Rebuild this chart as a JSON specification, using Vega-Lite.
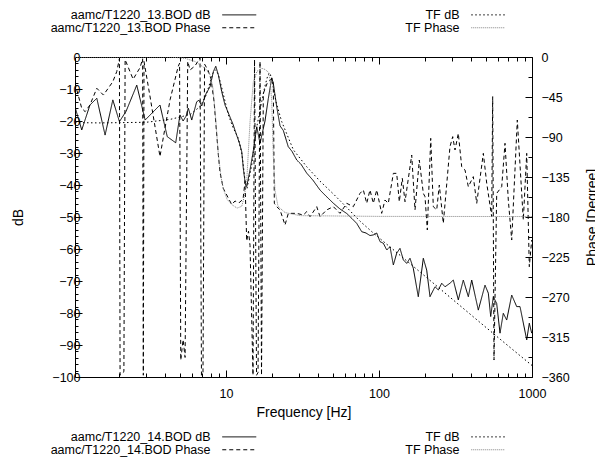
{
"$schema": "https://vega.github.io/schema/vega-lite/v6.json",
"width": 457, "height": 320,
"autosize": {"type": "none"},
"padding": {"left": 75, "top": 57, "right": 63, "bottom": 88},
"config": {
 "font": "Liberation Sans",
 "view": {"stroke": "#000", "strokeWidth": 1},
 "axis": {"labelFont": "Liberation Sans", "labelFontSize": 12.5, "labelColor": "#000", "titleFont": "Liberation Sans", "titleFontSize": 14, "titleFontWeight": "normal", "titleColor": "#000", "domain": false, "grid": false, "tickColor": "#000", "tickWidth": 1, "labelOverlap": false, "labelBound": false, "labelFlush": false},
 "legend": {"labelFont": "Liberation Sans", "labelFontSize": 12.5, "labelColor": "#000", "labelLimit": 400, "padding": 0, "titlePadding": 0}
},
"data": {"values": [
{"s":"bod_db","f":1.03,"v":-15.6},{"s":"bod_db","f":1.14,"v":-22.8},{"s":"bod_db","f":1.29,"v":-15},{"s":"bod_db","f":1.43,"v":-12.9},{"s":"bod_db","f":1.62,"v":-24.4},{"s":"bod_db","f":1.82,"v":-13.4},{"s":"bod_db","f":2.01,"v":-20.2},{"s":"bod_db","f":2.22,"v":-17},{"s":"bod_db","f":2.61,"v":-8.8},{"s":"bod_db","f":2.96,"v":-19.7},{"s":"bod_db","f":3.7,"v":-15},{"s":"bod_db","f":4.13,"v":-24.9},{"s":"bod_db","f":4.69,"v":-26.8},{"s":"bod_db","f":5.0,"v":-18.1},{"s":"bod_db","f":5.24,"v":-20},{"s":"bod_db","f":5.48,"v":-18.5},{"s":"bod_db","f":5.67,"v":-16},{"s":"bod_db","f":5.97,"v":-19.7},{"s":"bod_db","f":6.43,"v":-14},{"s":"bod_db","f":6.66,"v":-13.5},{"s":"bod_db","f":6.94,"v":-15.3},{"s":"bod_db","f":7.4,"v":-11.5},{"s":"bod_db","f":7.86,"v":-9.3},{"s":"bod_db","f":8.26,"v":-4.6},{"s":"bod_db","f":8.57,"v":-2.9},{"s":"bod_db","f":8.91,"v":-5.6},{"s":"bod_db","f":9.37,"v":-10.8},{"s":"bod_db","f":9.85,"v":-15},{"s":"bod_db","f":10.46,"v":-18},{"s":"bod_db","f":11.1,"v":-21},{"s":"bod_db","f":11.75,"v":-24.5},{"s":"bod_db","f":12.25,"v":-27},{"s":"bod_db","f":12.67,"v":-29.6},{"s":"bod_db","f":12.97,"v":-34.8},{"s":"bod_db","f":13.31,"v":-39},{"s":"bod_db","f":13.65,"v":-40.5},{"s":"bod_db","f":14.35,"v":-35.3},{"s":"bod_db","f":15.08,"v":-29.3},{"s":"bod_db","f":15.88,"v":-21.8},{"s":"bod_db","f":16.68,"v":-27},{"s":"bod_db","f":17.98,"v":-20},{"s":"bod_db","f":18.9,"v":-13},{"s":"bod_db","f":19.9,"v":-6.5},{"s":"bod_db","f":20.37,"v":-8.2},{"s":"bod_db","f":21.44,"v":-15.5},{"s":"bod_db","f":22.54,"v":-21.5},{"s":"bod_db","f":23.7,"v":-23},{"s":"bod_db","f":25.5,"v":-28},{"s":"bod_db","f":27.0,"v":-29.5},{"s":"bod_db","f":29.0,"v":-32.2},{"s":"bod_db","f":30.9,"v":-33.5},{"s":"bod_db","f":33.7,"v":-36.3},{"s":"bod_db","f":37.0,"v":-38.5},{"s":"bod_db","f":41.2,"v":-41.6},{"s":"bod_db","f":45.1,"v":-43.5},{"s":"bod_db","f":50.3,"v":-45.7},{"s":"bod_db","f":55.6,"v":-47.5},{"s":"bod_db","f":61.5,"v":-48.9},{"s":"bod_db","f":66.6,"v":-50.5},{"s":"bod_db","f":71.5,"v":-52},{"s":"bod_db","f":77.1,"v":-54.6},{"s":"bod_db","f":82.2,"v":-55},{"s":"bod_db","f":87.3,"v":-55.8},{"s":"bod_db","f":91.8,"v":-55.6},{"s":"bod_db","f":96.6,"v":-55},{"s":"bod_db","f":101.5,"v":-57.7},{"s":"bod_db","f":106.7,"v":-58.2},{"s":"bod_db","f":112.3,"v":-60.3},{"s":"bod_db","f":118.0,"v":-59.3},{"s":"bod_db","f":124.1,"v":-65},{"s":"bod_db","f":130.5,"v":-61.3},{"s":"bod_db","f":137.1,"v":-59.8},{"s":"bod_db","f":144.2,"v":-63.4},{"s":"bod_db","f":151.7,"v":-64.5},{"s":"bod_db","f":159.4,"v":-62.9},{"s":"bod_db","f":167.5,"v":-66},{"s":"bod_db","f":180.6,"v":-74.9},{"s":"bod_db","f":194.8,"v":-62.9},{"s":"bod_db","f":205.0,"v":-66.6},{"s":"bod_db","f":215.4,"v":-74.9},{"s":"bod_db","f":232.3,"v":-71.8},{"s":"bod_db","f":244.2,"v":-72.8},{"s":"bod_db","f":257.0,"v":-70.7},{"s":"bod_db","f":270.0,"v":-71.8},{"s":"bod_db","f":291.0,"v":-70.7},{"s":"bod_db","f":305.9,"v":-69.7},{"s":"bod_db","f":329.8,"v":-75.9},{"s":"bod_db","f":355.6,"v":-69.7},{"s":"bod_db","f":383.5,"v":-74.9},{"s":"bod_db","f":403.6,"v":-69.7},{"s":"bod_db","f":445.7,"v":-79.1},{"s":"bod_db","f":493.0,"v":-71.3},{"s":"bod_db","f":518.2,"v":-73.8},{"s":"bod_db","f":537.1,"v":-81.1},{"s":"bod_db","f":558.5,"v":-74.9},{"s":"bod_db","f":587.6,"v":-77},{"s":"bod_db","f":617.9,"v":-86.3},{"s":"bod_db","f":649.2,"v":-80.1},{"s":"bod_db","f":683.3,"v":-82.2},{"s":"bod_db","f":736.9,"v":-74.4},{"s":"bod_db","f":794.3,"v":-78},{"s":"bod_db","f":835,"v":-78},{"s":"bod_db","f":923.5,"v":-88.4},{"s":"bod_db","f":960.2,"v":-83.2},{"s":"bod_db","f":995.5,"v":-86.3},
{"s":"tf_db","f":1.03,"v":-20.5},{"s":"tf_db","f":1.5,"v":-20.6},{"s":"tf_db","f":3.0,"v":-20.4},{"s":"tf_db","f":4.31,"v":-19.5},{"s":"tf_db","f":5.82,"v":-18},{"s":"tf_db","f":6.76,"v":-15.5},{"s":"tf_db","f":7.4,"v":-12},{"s":"tf_db","f":7.86,"v":-8},{"s":"tf_db","f":8.22,"v":-5},{"s":"tf_db","f":8.57,"v":-4},{"s":"tf_db","f":8.91,"v":-5.5},{"s":"tf_db","f":9.42,"v":-10},{"s":"tf_db","f":10.35,"v":-18},{"s":"tf_db","f":11.1,"v":-22},{"s":"tf_db","f":12.03,"v":-25.4},{"s":"tf_db","f":12.67,"v":-30},{"s":"tf_db","f":12.97,"v":-33.8},{"s":"tf_db","f":13.41,"v":-40},{"s":"tf_db","f":13.72,"v":-41},{"s":"tf_db","f":14.14,"v":-38},{"s":"tf_db","f":14.72,"v":-33.8},{"s":"tf_db","f":15.71,"v":-23},{"s":"tf_db","f":17.11,"v":-14},{"s":"tf_db","f":17.98,"v":-9},{"s":"tf_db","f":18.82,"v":-5.5},{"s":"tf_db","f":19.39,"v":-5},{"s":"tf_db","f":19.98,"v":-7.5},{"s":"tf_db","f":21.22,"v":-14},{"s":"tf_db","f":23.12,"v":-20.2},{"s":"tf_db","f":27.54,"v":-29},{"s":"tf_db","f":33.7,"v":-34.3},{"s":"tf_db","f":41.16,"v":-38.8},{"s":"tf_db","f":50.3,"v":-42.8},{"s":"tf_db","f":61.5,"v":-47},{"s":"tf_db","f":75.1,"v":-51.3},{"s":"tf_db","f":91.8,"v":-55},{"s":"tf_db","f":100,"v":-56.5},{"s":"tf_db","f":150,"v":-63.5},{"s":"tf_db","f":200,"v":-68.5},{"s":"tf_db","f":300,"v":-75.6},{"s":"tf_db","f":500,"v":-84.5},{"s":"tf_db","f":700,"v":-90.3},{"s":"tf_db","f":1000,"v":-96.4},
{"s":"bod_ph","f":1.03,"v":-29.6},{"s":"bod_ph","f":1.14,"v":-57.7},{"s":"bod_ph","f":1.2,"v":-61.5},{"s":"bod_ph","f":1.29,"v":-54},{"s":"bod_ph","f":1.43,"v":-35.2},{"s":"bod_ph","f":1.58,"v":-42.8},{"s":"bod_ph","f":1.82,"v":-27.8},{"s":"bod_ph","f":1.93,"v":-16.5},{"s":"bod_ph","f":2.01,"v":-2},{"s":"bod_ph","f":2.03,"v":-358},{"s":"bod_ph","f":2.15,"v":-354},{"s":"bod_ph","f":2.19,"v":-3},{"s":"bod_ph","f":2.47,"v":-25},{"s":"bod_ph","f":2.74,"v":-12},{"s":"bod_ph","f":2.85,"v":-2},{"s":"bod_ph","f":2.88,"v":-358},{"s":"bod_ph","f":2.91,"v":-5},{"s":"bod_ph","f":3.19,"v":-45},{"s":"bod_ph","f":3.7,"v":-112},{"s":"bod_ph","f":3.99,"v":-80},{"s":"bod_ph","f":4.31,"v":-48},{"s":"bod_ph","f":4.86,"v":-11},{"s":"bod_ph","f":4.97,"v":-7},{"s":"bod_ph","f":5.06,"v":-341},{"s":"bod_ph","f":5.24,"v":-318},{"s":"bod_ph","f":5.4,"v":-338},{"s":"bod_ph","f":5.62,"v":-5},{"s":"bod_ph","f":5.82,"v":-14.6},{"s":"bod_ph","f":6.27,"v":-10},{"s":"bod_ph","f":6.76,"v":-1},{"s":"bod_ph","f":6.91,"v":-358},{"s":"bod_ph","f":7.07,"v":-355},{"s":"bod_ph","f":7.24,"v":-8},{"s":"bod_ph","f":7.63,"v":-15},{"s":"bod_ph","f":7.98,"v":-25},{"s":"bod_ph","f":8.35,"v":-50},{"s":"bod_ph","f":8.91,"v":-110},{"s":"bod_ph","f":9.14,"v":-130},{"s":"bod_ph","f":9.6,"v":-148},{"s":"bod_ph","f":10.9,"v":-166},{"s":"bod_ph","f":11.45,"v":-162},{"s":"bod_ph","f":12.16,"v":-164},{"s":"bod_ph","f":12.92,"v":-160},{"s":"bod_ph","f":13.31,"v":-140},{"s":"bod_ph","f":13.65,"v":-207},{"s":"bod_ph","f":14.03,"v":-196},{"s":"bod_ph","f":14.35,"v":-212},{"s":"bod_ph","f":15.01,"v":-358},{"s":"bod_ph","f":15.36,"v":-3},{"s":"bod_ph","f":15.83,"v":-358},{"s":"bod_ph","f":16.19,"v":-355},{"s":"bod_ph","f":16.68,"v":-5},{"s":"bod_ph","f":17.06,"v":-358},{"s":"bod_ph","f":17.53,"v":-41},{"s":"bod_ph","f":18.53,"v":-30},{"s":"bod_ph","f":19.9,"v":-24},{"s":"bod_ph","f":20.37,"v":-30},{"s":"bod_ph","f":20.69,"v":-164.6},{"s":"bod_ph","f":21.45,"v":-168.4},{"s":"bod_ph","f":22.54,"v":-172},{"s":"bod_ph","f":24.3,"v":-189},{"s":"bod_ph","f":25.54,"v":-175.9},{"s":"bod_ph","f":28.98,"v":-175.9},{"s":"bod_ph","f":32.0,"v":-177.8},{"s":"bod_ph","f":33.7,"v":-174},{"s":"bod_ph","f":35.4,"v":-179.6},{"s":"bod_ph","f":39.16,"v":-168.4},{"s":"bod_ph","f":41.16,"v":-179.6},{"s":"bod_ph","f":45.5,"v":-172},{"s":"bod_ph","f":50.3,"v":-168.4},{"s":"bod_ph","f":55.6,"v":-175.9},{"s":"bod_ph","f":61.5,"v":-164.6},{"s":"bod_ph","f":67.9,"v":-168.4},{"s":"bod_ph","f":75.1,"v":-153.4},{"s":"bod_ph","f":79.0,"v":-149.6},{"s":"bod_ph","f":83.1,"v":-164.6},{"s":"bod_ph","f":87.3,"v":-149.6},{"s":"bod_ph","f":91.8,"v":-164.6},{"s":"bod_ph","f":96.6,"v":-149.6},{"s":"bod_ph","f":104.1,"v":-175.9},{"s":"bod_ph","f":109.4,"v":-160.9},{"s":"bod_ph","f":115.0,"v":-164.6},{"s":"bod_ph","f":124.1,"v":-130.9},{"s":"bod_ph","f":130.5,"v":-130.9},{"s":"bod_ph","f":135.7,"v":-162.8},{"s":"bod_ph","f":142.0,"v":-136.5},{"s":"bod_ph","f":147.9,"v":-162.8},{"s":"bod_ph","f":163.6,"v":-110.3},{"s":"bod_ph","f":171.9,"v":-172},{"s":"bod_ph","f":183.4,"v":-115.9},{"s":"bod_ph","f":194.8,"v":-153.4},{"s":"bod_ph","f":199.8,"v":-157.1},{"s":"bod_ph","f":206.9,"v":-194.6},{"s":"bod_ph","f":217.8,"v":-91.5},{"s":"bod_ph","f":226.4,"v":-168.4},{"s":"bod_ph","f":238.3,"v":-172},{"s":"bod_ph","f":247.8,"v":-144},{"s":"bod_ph","f":263.2,"v":-187.1},{"s":"bod_ph","f":291.0,"v":-100.9},{"s":"bod_ph","f":303.2,"v":-89.6},{"s":"bod_ph","f":313.9,"v":-104.6},{"s":"bod_ph","f":329.9,"v":-85.9},{"s":"bod_ph","f":347.1,"v":-123.4},{"s":"bod_ph","f":364.8,"v":-127.1},{"s":"bod_ph","f":383.5,"v":-145.9},{"s":"bod_ph","f":413.4,"v":-134.6},{"s":"bod_ph","f":435.2,"v":-164.6},{"s":"bod_ph","f":480.7,"v":-108.4},{"s":"bod_ph","f":505.9,"v":-142.1},{"s":"bod_ph","f":545.3,"v":-179.6},{"s":"bod_ph","f":553.4,"v":-44.6},{"s":"bod_ph","f":564.5,"v":-340.9},{"s":"bod_ph","f":587.9,"v":-153.4},{"s":"bod_ph","f":633.9,"v":-145.9},{"s":"bod_ph","f":666.1,"v":-97.1},{"s":"bod_ph","f":700.0,"v":-160.9},{"s":"bod_ph","f":736.9,"v":-205.9},{"s":"bod_ph","f":801.6,"v":-70.9},{"s":"bod_ph","f":877.4,"v":-183.4},{"s":"bod_ph","f":923.5,"v":-108.4},{"s":"bod_ph","f":960.2,"v":-235.9},{"s":"bod_ph","f":995.5,"v":-205.9},
{"s":"tf_ph","f":1.03,"v":0},{"s":"tf_ph","f":4.31,"v":0},{"s":"tf_ph","f":5.4,"v":-1.5},{"s":"tf_ph","f":6.27,"v":-5},{"s":"tf_ph","f":7.29,"v":-12.7},{"s":"tf_ph","f":7.86,"v":-20},{"s":"tf_ph","f":8.22,"v":-35},{"s":"tf_ph","f":8.57,"v":-70},{"s":"tf_ph","f":8.91,"v":-110},{"s":"tf_ph","f":9.28,"v":-135},{"s":"tf_ph","f":9.6,"v":-148},{"s":"tf_ph","f":10.15,"v":-160},{"s":"tf_ph","f":10.9,"v":-166},{"s":"tf_ph","f":11.8,"v":-170},{"s":"tf_ph","f":12.67,"v":-168},{"s":"tf_ph","f":13.11,"v":-158},{"s":"tf_ph","f":13.65,"v":-140},{"s":"tf_ph","f":14.35,"v":-73},{"s":"tf_ph","f":15.08,"v":-28},{"s":"tf_ph","f":15.95,"v":-16},{"s":"tf_ph","f":17.11,"v":-12.7},{"s":"tf_ph","f":17.98,"v":-14},{"s":"tf_ph","f":18.9,"v":-17},{"s":"tf_ph","f":19.39,"v":-25},{"s":"tf_ph","f":19.9,"v":-50},{"s":"tf_ph","f":20.37,"v":-110},{"s":"tf_ph","f":20.9,"v":-150},{"s":"tf_ph","f":21.87,"v":-168},{"s":"tf_ph","f":24.3,"v":-175},{"s":"tf_ph","f":30.5,"v":-178.5},{"s":"tf_ph","f":100,"v":-179.3},{"s":"tf_ph","f":1000,"v":-179.5}
]},
"layer": [
 {
  "transform": [{"filter": "datum.s === 'bod_db' || datum.s === 'tf_db'"}],
  "mark": {"type": "line", "strokeWidth": 1, "clip": true},
  "encoding": {
   "x": {"field": "f", "type": "quantitative", "scale": {"type": "log", "domain": [1.03, 1000]},
    "axis": {"orient": "bottom", "title": "Frequency [Hz]", "titleBaseline": "alphabetic", "titleY": 39, "values": [2,3,4,5,6,7,8,9,10,20,30,40,50,60,70,80,90,100,200,300,400,500,600,700,800,900,1000], "labelExpr": "indexof([10,100,1000], datum.value) >= 0 ? '' + datum.value : ''", "tickSize": {"condition": {"test": "indexof([10,100,1000], datum.value) >= 0", "value": -7}, "value": -4}, "labelPadding": 17}},
   "y": {"field": "v", "type": "quantitative", "scale": {"domain": [-100, 0]},
    "axis": {"orient": "left", "title": "dB", "titleAngle": -90, "titleBaseline": "alphabetic", "titleX": -53, "format": "d", "values": [-100,-98,-96,-94,-92,-90,-88,-86,-84,-82,-80,-78,-76,-74,-72,-70,-68,-66,-64,-62,-60,-58,-56,-54,-52,-50,-48,-46,-44,-42,-40,-38,-36,-34,-32,-30,-28,-26,-24,-22,-20,-18,-16,-14,-12,-10,-8,-6,-4,-2,0], "labelExpr": "datum.value % 10 === 0 ? datum.label : ''", "tickSize": {"condition": {"test": "datum.value % 10 === 0", "value": -7}, "value": -3},
     "encode": {"labels": {"update": {"x": {"value": -8}, "align": {"value": "right"}}}}}},
   "strokeDash": {"field": "s", "type": "nominal",
    "scale": {"domain": ["bod_db", "tf_db", "bod_ph", "tf_ph"], "range": [[1, 0], [1.5, 2.5], [4, 3], [1, 1]]},
    "legend": {"orient": "none", "legendX": 146.5, "legendY": -48.5, "columns": 2, "title": null, "symbolType": "M-3.4,0H3.4", "symbolSize": 100, "symbolOffset": 11.5, "symbolStrokeWidth": 1, "labelAlign": "right", "labelOffset": -35, "columnPadding": 146, "rowPadding": 0,
     "values": ["bod_db", "bod_ph", "tf_db", "tf_ph"],
     "labelExpr": "datum.value === 'bod_db' ? 'aamc/T1220_13.BOD dB' : datum.value === 'bod_ph' ? 'aamc/T1220_13.BOD Phase' : datum.value === 'tf_db' ? 'TF dB' : 'TF Phase'",
     "encode": {"symbols": {"update": {"stroke": {"signal": "datum.value === 'tf_ph' ? '#808080' : '#000000'"}, "fill": {"value": "transparent"}, "strokeWidth": {"value": 1}}}}}},
   "color": {"field": "s", "type": "nominal",
    "scale": {"domain": ["tf_ph", "bod_db", "tf_db", "bod_ph"], "range": ["#808080", "#000000", "#000000", "#000000"]},
    "legend": {"orient": "none", "legendX": 146.5, "legendY": 373.5, "columns": 2, "title": null, "symbolType": "M-3.4,0H3.4", "symbolSize": 100, "symbolOffset": 11.5, "symbolStrokeWidth": 1, "labelAlign": "right", "labelOffset": -35, "columnPadding": 146, "rowPadding": 0,
     "values": ["bod_db", "bod_ph", "tf_db", "tf_ph"],
     "labelExpr": "datum.value === 'bod_db' ? 'aamc/T1220_14.BOD dB' : datum.value === 'bod_ph' ? 'aamc/T1220_14.BOD Phase' : datum.value === 'tf_db' ? 'TF dB' : 'TF Phase'",
     "encode": {"symbols": {"update": {"strokeDash": {"signal": "datum.value === 'bod_ph' ? [4,3] : datum.value === 'tf_db' ? [1.5,2.5] : datum.value === 'tf_ph' ? [1,1] : [1,0]"}, "fill": {"value": "transparent"}, "strokeWidth": {"value": 1}}}}}}
  }
 },
 {
  "transform": [{"filter": "datum.s === 'bod_ph' || datum.s === 'tf_ph'"}],
  "mark": {"type": "line", "strokeWidth": 1, "clip": true},
  "encoding": {
   "x": {"field": "f", "type": "quantitative", "scale": {"type": "log", "domain": [1.03, 1000]},
    "axis": {"orient": "top", "title": null, "labels": false, "values": [2,3,4,5,6,7,8,9,10,20,30,40,50,60,70,80,90,100,200,300,400,500,600,700,800,900,1000], "tickSize": {"condition": {"test": "indexof([10,100,1000], datum.value) >= 0", "value": -7}, "value": -4}}},
   "y": {"field": "v", "type": "quantitative", "scale": {"domain": [-360, 0]},
    "axis": {"orient": "right", "title": "Phase [Degree]", "titleAngle": -90, "titleBaseline": "alphabetic", "titleX": 64, "format": "d", "values": [-360,-337.5,-315,-292.5,-270,-247.5,-225,-202.5,-180,-157.5,-135,-112.5,-90,-67.5,-45,-22.5,0], "labelExpr": "datum.value % 45 === 0 ? datum.label : ''", "tickSize": {"condition": {"test": "datum.value % 45 === 0", "value": -7}, "value": -4}, "labelPadding": 16, "labelAlign": "left"}},
   "strokeDash": {"field": "s", "type": "nominal", "scale": {"domain": ["bod_db", "tf_db", "bod_ph", "tf_ph"], "range": [[1, 0], [1.5, 2.5], [4, 3], [1, 1]]}},
   "color": {"field": "s", "type": "nominal", "scale": {"domain": ["tf_ph", "bod_db", "tf_db", "bod_ph"], "range": ["#808080", "#000000", "#000000", "#000000"]}}
  }
 }
],
"resolve": {"scale": {"y": "independent"}, "axis": {"x": "independent", "y": "independent"}}
}
